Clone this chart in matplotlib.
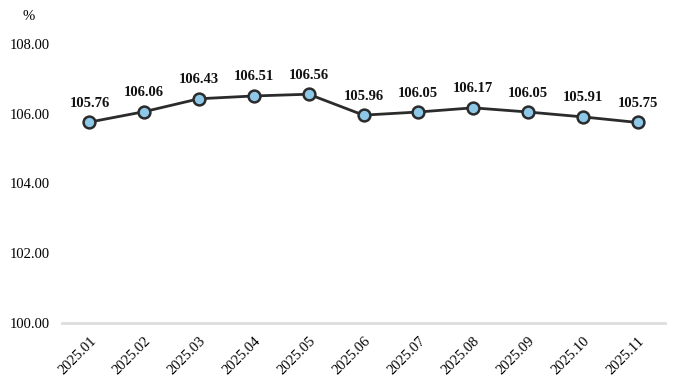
import matplotlib.pyplot as plt

months = ['2025.01', '2025.02', '2025.03', '2025.04', '2025.05', '2025.06',
          '2025.07', '2025.08', '2025.09', '2025.10', '2025.11']
values = [105.76, 106.06, 106.43, 106.51, 106.56, 105.96, 106.05, 106.17, 106.05, 105.91, 105.75]
yticks = [100, 102, 104, 106, 108]

plt.rcParams['font.family'] = ['Liberation Serif', 'DejaVu Serif']

fig = plt.figure(figsize=(6.79, 3.91), dpi=100)
ax = fig.add_axes([62 / 679, 68 / 391, 603 / 679, 279 / 391])

x = list(range(len(months)))
ax.plot(x, values, color='#2b2b2b', linewidth=2, marker='o', markersize=8.5,
        markerfacecolor='#8ec8e8', markeredgecolor='#2b2b2b', markeredgewidth=1.8, zorder=3)

for xi, v in zip(x, values):
    ax.annotate(f'{v:.2f}', (xi, v), xytext=(0, 9), textcoords='offset points',
                ha='center', va='bottom', fontsize=10.5, fontweight='bold', color='#111111')

ax.set_xlim(-0.5, len(months) - 0.5)
ax.set_ylim(100, 108)
ax.set_yticks(yticks)
ax.set_yticklabels([f'{t:.2f}' for t in yticks], fontsize=10.5)
ax.set_xticks(x)
ax.set_xticklabels(months, rotation=45, ha='right', rotation_mode='anchor', fontsize=10.5)

for s in ['top', 'right', 'left']:
    ax.spines[s].set_visible(False)
ax.spines['bottom'].set_color('#dddddd')
ax.spines['bottom'].set_linewidth(2)
ax.tick_params(length=0)
ax.tick_params(axis='y', pad=9)
ax.tick_params(axis='x', pad=8)

fig.text(22 / 679, 1 - 16 / 391, '%', fontsize=10.5, ha='left', va='center')

fig.savefig('out.png', dpi=100)
